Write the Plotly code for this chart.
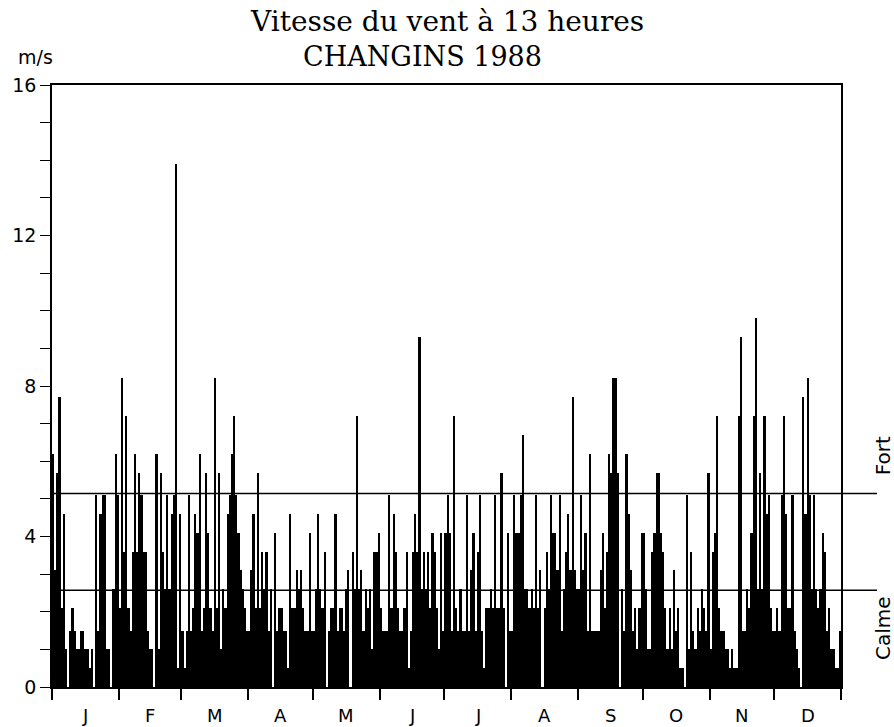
import plotly.graph_objects as go

# ---- data (m/s, one value per day, 1988) ----
month_labels = ["J", "F", "M", "A", "M", "J", "J", "A", "S", "O", "N", "D"]
month_days = [31, 29, 31, 30, 31, 30, 31, 31, 30, 31, 30, 31]

jan = [6.2, 3.1, 5.7, 7.7, 2.1, 4.6, 1.0, 0, 1.5, 2.1, 1.5, 1.0, 1.0, 1.5, 1.5, 1.0,
       1.0, 0.5, 1.0, 0, 5.1, 1.5, 4.6, 5.1, 5.1, 1.0, 1.0, 0, 2.6, 6.2, 5.1]
feb = [2.1, 8.2, 3.6, 7.2, 2.1, 1.5, 3.6, 6.2, 3.6, 5.7, 5.1, 3.6, 3.6, 1.5, 1.0,
       1.0, 0, 6.2, 1.0, 5.7, 3.6, 2.6, 5.1, 2.6, 4.6, 5.1, 13.9, 0.5, 4.6]
mar = [1.5, 0.5, 1.5, 5.1, 1.5, 2.1, 4.6, 4.1, 6.2, 1.5, 2.1, 5.7, 4.1, 2.1, 1.5,
       8.2, 2.1, 5.7, 1.0, 2.6, 2.1, 4.6, 5.1, 6.2, 7.2, 5.1, 4.1, 3.1, 2.6, 2.1, 1.5]
apr = [1.5, 3.1, 4.6, 2.1, 5.7, 2.1, 3.6, 2.6, 3.6, 1.5, 2.6, 0, 4.1, 1.5, 2.1,
       2.1, 1.5, 1.5, 0.5, 4.6, 2.1, 2.1, 3.1, 2.6, 3.1, 2.1, 1.5, 1.5, 4.1, 1.5]
may = [1.5, 2.6, 4.6, 2.6, 2.1, 3.6, 0, 1.5, 2.1, 2.1, 4.6, 1.5, 2.1, 2.1, 1.5,
       2.6, 3.1, 0, 3.6, 2.6, 7.2, 2.6, 3.1, 1.5, 2.6, 2.1, 2.6, 1.0, 3.6, 3.6, 4.1]
jun = [2.1, 1.5, 1.5, 1.5, 5.1, 2.1, 4.6, 3.6, 2.1, 1.5, 1.5, 2.1, 3.6, 0.5, 1.5,
       3.6, 4.6, 3.6, 9.3, 2.6, 3.6, 2.6, 3.6, 2.1, 4.1, 3.6, 2.1, 1.0, 4.1, 1.5]
jul = [4.1, 5.1, 4.1, 1.5, 7.2, 2.1, 1.5, 2.6, 1.5, 1.5, 5.1, 1.5, 3.1, 4.1, 1.5,
       3.6, 5.1, 1.5, 0.5, 2.1, 2.1, 2.6, 2.1, 5.1, 2.1, 2.1, 5.7, 2.1, 0, 4.1, 1.5]
aug = [1.5, 5.1, 4.1, 4.1, 5.1, 6.7, 2.6, 2.6, 2.1, 2.6, 2.1, 5.1, 2.1, 3.1, 0,
       2.1, 3.6, 2.6, 5.1, 4.1, 4.1, 3.1, 5.1, 1.5, 2.6, 3.6, 4.6, 3.1, 7.7, 3.1, 2.6]
sep = [2.6, 5.1, 3.1, 4.1, 1.5, 6.2, 1.5, 1.5, 1.5, 1.5, 3.1, 4.1, 2.1, 3.6, 6.2,
       5.7, 8.2, 8.2, 5.7, 0, 2.6, 1.5, 6.2, 4.6, 3.1, 1.5, 2.1, 1.0, 2.1, 4.1]
oct_ = [4.1, 2.6, 1.0, 1.0, 3.6, 4.1, 5.7, 5.7, 4.1, 3.6, 2.1, 1.0, 2.1, 1.0, 3.1,
        1.5, 2.1, 0.5, 0.5, 0, 5.1, 1.0, 3.6, 1.5, 1.0, 2.1, 1.5, 2.6, 2.1, 1.5, 5.7]
nov = [1.0, 3.6, 4.1, 7.2, 2.1, 1.5, 1.5, 1.0, 1.0, 0.5, 1.0, 0.5, 0.5, 7.2, 9.3,
       1.5, 1.5, 2.6, 2.1, 4.1, 7.2, 9.8, 2.6, 5.7, 2.6, 7.2, 4.6, 5.1, 2.1, 1.5]
dec = [1.5, 2.1, 1.5, 5.1, 7.2, 4.6, 2.1, 2.1, 5.1, 1.5, 1.0, 0.5, 0, 7.7, 4.6,
       8.2, 5.1, 2.6, 5.1, 2.6, 2.1, 2.6, 4.1, 3.6, 1.5, 2.1, 1.0, 1.0, 0.5, 0.5, 1.5]

speed = jan + feb + mar + apr + may + jun + jul + aug + sep + oct_ + nov + dec
days = list(range(len(speed)))

fort_level = 5.14   # 10 kt
calme_level = 2.57  # 5 kt

# month boundaries and centres (day index)
bounds = [-0.5]
for n in month_days:
    bounds.append(bounds[-1] + n)
centres = [(bounds[i] + bounds[i + 1]) / 2 for i in range(12)]

fig = go.Figure()
fig.add_trace(go.Bar(x=days, y=speed, width=1.0,
                     marker=dict(color="black", line=dict(width=0)),
                     hoverinfo="x+y"))

sans = "DejaVu Sans"
serif = "DejaVu Serif"

fig.update_layout(
    width=894, height=727,
    margin=dict(l=52, r=53, t=85, b=40),
    paper_bgcolor="white", plot_bgcolor="white",
    showlegend=False, bargap=0,
    xaxis=dict(range=[-0.5, 365.5], tickmode="array", tickvals=bounds,
               showticklabels=False, ticks="outside", ticklen=11, tickwidth=1.5,
               tickcolor="black", showline=True, linecolor="black", linewidth=1.5,
               mirror=True, showgrid=False, zeroline=False),
    yaxis=dict(range=[0, 16], tickmode="array", tickvals=[0, 4, 8, 12, 16],
               ticks="outside", ticklen=10, tickwidth=1.2, tickcolor="black",
               minor=dict(dtick=1, tick0=0, ticks="outside", ticklen=10,
                          tickwidth=1.2, tickcolor="black", showgrid=False),
               tickfont=dict(family=sans, size=19, color="black"),
               showline=True, linecolor="black", linewidth=1.5, mirror=True,
               showgrid=False, zeroline=False),
)

for lvl in (fort_level, calme_level):
    fig.add_shape(type="line", xref="paper", yref="y", x0=0, x1=1.0456,
                  y0=lvl, y1=lvl, line=dict(color="black", width=1.5),
                  layer="above")

ann = []
for c, lab in zip(centres, month_labels):
    ann.append(dict(x=c, y=-0.048, xref="x", yref="paper", text=lab,
                    showarrow=False, font=dict(family=sans, size=18, color="black"),
                    xanchor="center", yanchor="middle"))
ann += [
    dict(x=0.5, y=1.105, xref="paper", yref="paper",
         text="Vitesse du vent à 13 heures", showarrow=False,
         font=dict(family=serif, size=28, color="black"),
         xanchor="center", yanchor="middle"),
    dict(x=0.47, y=1.047, xref="paper", yref="paper", text="CHANGINS 1988",
         showarrow=False, font=dict(family=serif, size=27, color="black"),
         xanchor="center", yanchor="middle"),
    dict(x=-0.021, y=1.047, xref="paper", yref="paper", text="m/s",
         showarrow=False, font=dict(family=sans, size=19, color="black"),
         xanchor="center", yanchor="middle"),
    dict(x=1.0532, y=0.385, xref="paper", yref="paper", text="Fort",
         showarrow=False, textangle=-90,
         font=dict(family=sans, size=20, color="black"),
         xanchor="center", yanchor="middle"),
    dict(x=1.0532, y=0.098, xref="paper", yref="paper", text="Calme",
         showarrow=False, textangle=-90,
         font=dict(family=sans, size=20, color="black"),
         xanchor="center", yanchor="middle"),
]
fig.update_layout(annotations=ann)

fig.write_html("out.html", config={"displayModeBar": False},
               post_script="document.body.style.margin='0px';"
                           "document.body.style.padding='0px';")
